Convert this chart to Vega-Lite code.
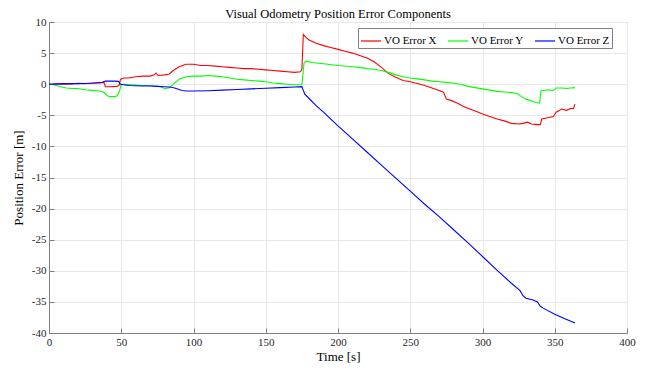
{
"$schema": "https://vega.github.io/schema/vega-lite/v6.json",
"width": 578, "height": 311,
"autosize": {"type": "none"},
"padding": {"left": 49, "top": 22, "right": 19, "bottom": 36},
"background": "white",
"config": {
  "font": "Liberation Serif",
  "view": {"stroke": "#808080", "strokeWidth": 1},
  "axis": {"labelFont": "Liberation Serif", "titleFont": "Liberation Serif", "labelFontSize": 11, "titleFontSize": 13, "titleFontWeight": "normal", "labelColor": "#262626", "titleColor": "#000", "gridColor": "#e8e8e8", "domainColor": "#808080", "tickColor": "#808080", "tickSize": -5, "labelFlush": false}
},
"title": {"text": "Visual Odometry Position Error Components", "font": "Liberation Serif", "fontSize": 12.5, "fontWeight": "normal", "color": "#000", "offset": -4},
"datasets": {"d": [
{"t":0,"s":"VO Error X","v":0},{"t":5,"s":"VO Error X","v":0.05},{"t":10,"s":"VO Error X","v":0.1},{"t":15,"s":"VO Error X","v":0.05},{"t":20,"s":"VO Error X","v":0.15},{"t":25,"s":"VO Error X","v":0.1},{"t":30,"s":"VO Error X","v":0.2},{"t":35,"s":"VO Error X","v":0.2},{"t":38,"s":"VO Error X","v":0.3},{"t":39,"s":"VO Error X","v":-0.4},{"t":42,"s":"VO Error X","v":-0.4},{"t":47,"s":"VO Error X","v":-0.35},{"t":48.5,"s":"VO Error X","v":-0.2},{"t":49.5,"s":"VO Error X","v":0.8},{"t":52,"s":"VO Error X","v":1.0},{"t":55,"s":"VO Error X","v":1.0},{"t":60,"s":"VO Error X","v":1.2},{"t":65,"s":"VO Error X","v":1.3},{"t":70,"s":"VO Error X","v":1.3},{"t":73,"s":"VO Error X","v":1.5},{"t":74,"s":"VO Error X","v":1.8},{"t":75.5,"s":"VO Error X","v":1.4},{"t":80,"s":"VO Error X","v":1.5},{"t":83,"s":"VO Error X","v":1.6},{"t":86,"s":"VO Error X","v":2.2},{"t":90,"s":"VO Error X","v":2.8},{"t":95,"s":"VO Error X","v":3.2},{"t":100,"s":"VO Error X","v":3.2},{"t":105,"s":"VO Error X","v":3.0},{"t":110,"s":"VO Error X","v":3.0},{"t":115,"s":"VO Error X","v":2.9},{"t":120,"s":"VO Error X","v":2.8},{"t":125,"s":"VO Error X","v":2.7},{"t":130,"s":"VO Error X","v":2.6},{"t":135,"s":"VO Error X","v":2.5},{"t":140,"s":"VO Error X","v":2.5},{"t":145,"s":"VO Error X","v":2.4},{"t":150,"s":"VO Error X","v":2.3},{"t":155,"s":"VO Error X","v":2.2},{"t":160,"s":"VO Error X","v":2.1},{"t":165,"s":"VO Error X","v":2.0},{"t":170,"s":"VO Error X","v":1.9},{"t":174,"s":"VO Error X","v":2.0},{"t":175,"s":"VO Error X","v":2.4},{"t":176,"s":"VO Error X","v":8.0},{"t":178,"s":"VO Error X","v":7.5},{"t":180,"s":"VO Error X","v":7.1},{"t":185,"s":"VO Error X","v":6.6},{"t":190,"s":"VO Error X","v":6.2},{"t":195,"s":"VO Error X","v":5.9},{"t":200,"s":"VO Error X","v":5.6},{"t":205,"s":"VO Error X","v":5.3},{"t":210,"s":"VO Error X","v":5.0},{"t":215,"s":"VO Error X","v":4.6},{"t":220,"s":"VO Error X","v":4.2},{"t":225,"s":"VO Error X","v":3.6},{"t":230,"s":"VO Error X","v":2.7},{"t":235,"s":"VO Error X","v":1.7},{"t":240,"s":"VO Error X","v":1.1},{"t":245,"s":"VO Error X","v":0.6},{"t":250,"s":"VO Error X","v":0.4},{"t":255,"s":"VO Error X","v":0.1},{"t":260,"s":"VO Error X","v":-0.2},{"t":265,"s":"VO Error X","v":-0.6},{"t":270,"s":"VO Error X","v":-1.0},{"t":273,"s":"VO Error X","v":-1.3},{"t":275,"s":"VO Error X","v":-2.4},{"t":278,"s":"VO Error X","v":-2.6},{"t":282,"s":"VO Error X","v":-3.0},{"t":288,"s":"VO Error X","v":-3.7},{"t":295,"s":"VO Error X","v":-4.3},{"t":300,"s":"VO Error X","v":-4.8},{"t":305,"s":"VO Error X","v":-5.2},{"t":310,"s":"VO Error X","v":-5.6},{"t":315,"s":"VO Error X","v":-5.9},{"t":320,"s":"VO Error X","v":-6.3},{"t":325,"s":"VO Error X","v":-6.4},{"t":328,"s":"VO Error X","v":-6.3},{"t":331,"s":"VO Error X","v":-6.1},{"t":334,"s":"VO Error X","v":-6.4},{"t":338,"s":"VO Error X","v":-6.5},{"t":340,"s":"VO Error X","v":-6.5},{"t":341,"s":"VO Error X","v":-5.6},{"t":345,"s":"VO Error X","v":-5.4},{"t":349,"s":"VO Error X","v":-5.2},{"t":351,"s":"VO Error X","v":-4.5},{"t":355,"s":"VO Error X","v":-4.0},{"t":358,"s":"VO Error X","v":-4.2},{"t":361,"s":"VO Error X","v":-3.9},{"t":363,"s":"VO Error X","v":-3.9},{"t":364,"s":"VO Error X","v":-3.2},
{"t":0,"s":"VO Error Y","v":0},{"t":3,"s":"VO Error Y","v":-0.1},{"t":8,"s":"VO Error Y","v":-0.4},{"t":12,"s":"VO Error Y","v":-0.6},{"t":16,"s":"VO Error Y","v":-0.7},{"t":20,"s":"VO Error Y","v":-0.7},{"t":25,"s":"VO Error Y","v":-0.9},{"t":30,"s":"VO Error Y","v":-1.0},{"t":35,"s":"VO Error Y","v":-1.1},{"t":38,"s":"VO Error Y","v":-1.3},{"t":40,"s":"VO Error Y","v":-1.8},{"t":42,"s":"VO Error Y","v":-2.0},{"t":45,"s":"VO Error Y","v":-2.0},{"t":47,"s":"VO Error Y","v":-1.9},{"t":48.5,"s":"VO Error Y","v":-1.3},{"t":50,"s":"VO Error Y","v":-0.1},{"t":53,"s":"VO Error Y","v":0.0},{"t":58,"s":"VO Error Y","v":-0.1},{"t":63,"s":"VO Error Y","v":-0.2},{"t":68,"s":"VO Error Y","v":-0.2},{"t":73,"s":"VO Error Y","v":-0.3},{"t":77,"s":"VO Error Y","v":-0.4},{"t":80,"s":"VO Error Y","v":-0.7},{"t":83,"s":"VO Error Y","v":-0.6},{"t":86,"s":"VO Error Y","v":0.0},{"t":90,"s":"VO Error Y","v":0.8},{"t":95,"s":"VO Error Y","v":1.2},{"t":100,"s":"VO Error Y","v":1.3},{"t":105,"s":"VO Error Y","v":1.3},{"t":110,"s":"VO Error Y","v":1.4},{"t":115,"s":"VO Error Y","v":1.3},{"t":120,"s":"VO Error Y","v":1.2},{"t":125,"s":"VO Error Y","v":1.0},{"t":130,"s":"VO Error Y","v":0.8},{"t":135,"s":"VO Error Y","v":0.7},{"t":140,"s":"VO Error Y","v":0.6},{"t":145,"s":"VO Error Y","v":0.5},{"t":150,"s":"VO Error Y","v":0.4},{"t":155,"s":"VO Error Y","v":0.2},{"t":160,"s":"VO Error Y","v":0.1},{"t":165,"s":"VO Error Y","v":0.0},{"t":170,"s":"VO Error Y","v":-0.1},{"t":175,"s":"VO Error Y","v":-0.1},{"t":176.5,"s":"VO Error Y","v":3.4},{"t":178,"s":"VO Error Y","v":3.7},{"t":182,"s":"VO Error Y","v":3.5},{"t":190,"s":"VO Error Y","v":3.3},{"t":200,"s":"VO Error Y","v":3.0},{"t":210,"s":"VO Error Y","v":2.8},{"t":215,"s":"VO Error Y","v":2.7},{"t":220,"s":"VO Error Y","v":2.5},{"t":225,"s":"VO Error Y","v":2.4},{"t":230,"s":"VO Error Y","v":2.2},{"t":235,"s":"VO Error Y","v":1.9},{"t":240,"s":"VO Error Y","v":1.5},{"t":245,"s":"VO Error Y","v":1.2},{"t":250,"s":"VO Error Y","v":1.0},{"t":255,"s":"VO Error Y","v":0.85},{"t":260,"s":"VO Error Y","v":0.7},{"t":265,"s":"VO Error Y","v":0.5},{"t":270,"s":"VO Error Y","v":0.4},{"t":275,"s":"VO Error Y","v":0.3},{"t":280,"s":"VO Error Y","v":0.15},{"t":285,"s":"VO Error Y","v":0.0},{"t":290,"s":"VO Error Y","v":-0.35},{"t":295,"s":"VO Error Y","v":-0.55},{"t":300,"s":"VO Error Y","v":-0.75},{"t":305,"s":"VO Error Y","v":-0.95},{"t":310,"s":"VO Error Y","v":-1.15},{"t":315,"s":"VO Error Y","v":-1.25},{"t":320,"s":"VO Error Y","v":-1.35},{"t":324,"s":"VO Error Y","v":-1.5},{"t":327,"s":"VO Error Y","v":-2.0},{"t":330,"s":"VO Error Y","v":-2.4},{"t":334,"s":"VO Error Y","v":-2.7},{"t":337,"s":"VO Error Y","v":-2.95},{"t":339.5,"s":"VO Error Y","v":-3.05},{"t":340.5,"s":"VO Error Y","v":-1.1},{"t":345,"s":"VO Error Y","v":-0.9},{"t":349,"s":"VO Error Y","v":-1.0},{"t":351,"s":"VO Error Y","v":-0.6},{"t":355,"s":"VO Error Y","v":-0.6},{"t":358,"s":"VO Error Y","v":-0.7},{"t":361,"s":"VO Error Y","v":-0.6},{"t":364,"s":"VO Error Y","v":-0.55},
{"t":0,"s":"VO Error Z","v":0},{"t":10,"s":"VO Error Z","v":0.05},{"t":20,"s":"VO Error Z","v":0.1},{"t":30,"s":"VO Error Z","v":0.15},{"t":37,"s":"VO Error Z","v":0.3},{"t":39,"s":"VO Error Z","v":0.5},{"t":45,"s":"VO Error Z","v":0.5},{"t":48,"s":"VO Error Z","v":0.45},{"t":49.5,"s":"VO Error Z","v":0.0},{"t":55,"s":"VO Error Z","v":-0.2},{"t":60,"s":"VO Error Z","v":-0.25},{"t":65,"s":"VO Error Z","v":-0.3},{"t":70,"s":"VO Error Z","v":-0.3},{"t":75,"s":"VO Error Z","v":-0.35},{"t":80,"s":"VO Error Z","v":-0.4},{"t":85,"s":"VO Error Z","v":-0.5},{"t":88,"s":"VO Error Z","v":-0.7},{"t":92,"s":"VO Error Z","v":-1.0},{"t":95,"s":"VO Error Z","v":-1.1},{"t":100,"s":"VO Error Z","v":-1.1},{"t":110,"s":"VO Error Z","v":-1.05},{"t":120,"s":"VO Error Z","v":-0.95},{"t":130,"s":"VO Error Z","v":-0.85},{"t":140,"s":"VO Error Z","v":-0.75},{"t":150,"s":"VO Error Z","v":-0.65},{"t":160,"s":"VO Error Z","v":-0.55},{"t":170,"s":"VO Error Z","v":-0.45},{"t":175,"s":"VO Error Z","v":-0.4},{"t":176,"s":"VO Error Z","v":-1.0},{"t":177,"s":"VO Error Z","v":-1.6},{"t":180,"s":"VO Error Z","v":-2.3},{"t":185,"s":"VO Error Z","v":-3.5},{"t":190,"s":"VO Error Z","v":-4.5},{"t":195,"s":"VO Error Z","v":-5.6},{"t":200,"s":"VO Error Z","v":-6.7},{"t":210,"s":"VO Error Z","v":-8.8},{"t":220,"s":"VO Error Z","v":-10.9},{"t":230,"s":"VO Error Z","v":-13.0},{"t":240,"s":"VO Error Z","v":-15.1},{"t":250,"s":"VO Error Z","v":-17.2},{"t":260,"s":"VO Error Z","v":-19.3},{"t":270,"s":"VO Error Z","v":-21.3},{"t":280,"s":"VO Error Z","v":-23.4},{"t":290,"s":"VO Error Z","v":-25.5},{"t":300,"s":"VO Error Z","v":-27.7},{"t":310,"s":"VO Error Z","v":-29.9},{"t":320,"s":"VO Error Z","v":-32.0},{"t":326,"s":"VO Error Z","v":-33.2},{"t":328,"s":"VO Error Z","v":-34.0},{"t":330,"s":"VO Error Z","v":-34.4},{"t":335,"s":"VO Error Z","v":-34.7},{"t":338,"s":"VO Error Z","v":-35.0},{"t":340,"s":"VO Error Z","v":-35.7},{"t":342,"s":"VO Error Z","v":-36.0},{"t":350,"s":"VO Error Z","v":-37.0},{"t":357,"s":"VO Error Z","v":-37.7},{"t":364,"s":"VO Error Z","v":-38.4}
]},
"data": {"name": "d"},
"mark": {"type": "line", "strokeWidth": 1.1, "interpolate": "linear"},
"encoding": {
  "x": {"field": "t", "type": "quantitative", "scale": {"domain": [0, 400], "nice": false, "zero": false},
        "axis": {"title": "Time [s]", "values": [0,50,100,150,200,250,300,350,400], "labelPadding": 8, "titlePadding": 3}},
  "y": {"field": "v", "type": "quantitative", "scale": {"domain": [-40, 10], "nice": false, "zero": false},
        "axis": {"title": "Position Error [m]", "values": [10,5,0,-5,-10,-15,-20,-25,-30,-35,-40], "labelExpr": "toString(datum.value)", "labelPadding": 8, "titlePadding": 6}},
  "color": {"field": "s", "type": "nominal",
    "scale": {"domain": ["VO Error X", "VO Error Y", "VO Error Z"], "range": ["#ff0000", "#00ff00", "#0000ff"]},
    "legend": {"title": null, "orient": "none", "legendX": 309, "legendY": 6, "direction": "horizontal",
      "symbolType": "stroke", "symbolSize": 400, "symbolStrokeWidth": 1.2, "labelFont": "Liberation Serif", "labelFontSize": 11, "labelColor": "#000",
      "strokeColor": "#808080", "fillColor": "white", "padding": 2, "columnPadding": 8, "labelOffset": 2}}
}
}
